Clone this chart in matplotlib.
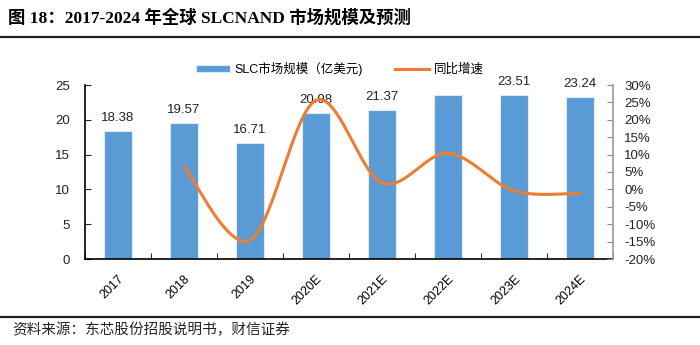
import numpy as np
import matplotlib
matplotlib.use("Agg")
import matplotlib.pyplot as plt
from matplotlib.ticker import FuncFormatter, FixedLocator

plt.rcParams['font.family'] = ['Liberation Sans', 'Noto Sans CJK SC']

# 数据
years = ['2017', '2018', '2019', '2020E', '2021E', '2022E', '2023E', '2024E']
market = [18.38, 19.57, 16.71, 20.98, 21.37, 23.6, 23.51, 23.24]
bar_labels = ['18.38', '19.57', '16.71', '20.98', '21.37', '', '23.51', '23.24']
growth_years = ['2018', '2019', '2020E', '2021E', '2022E', '2023E', '2024E']
growth = [6.5, -14.6, 25.6, 1.9, 10.4, -0.4, -1.1]

BLUE = '#5B9BD5'
ORANGE = '#ED7D31'


def smooth(xs, ys, n=40):
    # 类似 Excel 平滑线的 Catmull-Rom 贝塞尔
    pts = np.column_stack([xs, ys]).astype(float)
    p = np.vstack([pts[0], pts, pts[-1]])
    out = []
    t = np.linspace(0, 1, n)[:, None]
    for i in range(1, len(p) - 2):
        p0, p1, p2, p3 = p[i - 1], p[i], p[i + 1], p[i + 2]
        c1 = p1 + (p2 - p0) / 6
        c2 = p2 - (p3 - p1) / 6
        seg = (1 - t) ** 3 * p1 + 3 * (1 - t) ** 2 * t * c1 + 3 * (1 - t) * t ** 2 * c2 + t ** 3 * p2
        out.append(seg)
    out = np.vstack(out)
    return out[:, 0], out[:, 1]


fig = plt.figure(figsize=(7, 3.45), dpi=100)
ax = fig.add_axes([85 / 700, 1 - 259 / 345, 528 / 700, 174 / 345])

x = np.arange(len(years))
bars = ax.bar(x, market, width=0.42, color=BLUE, edgecolor='#DDEBF7', linewidth=0.8,
              label='SLC市场规模（亿美元)', zorder=2)
for xi, v, lab in zip(x, market, bar_labels):
    if lab:
        ax.text(xi, v + 1.0, lab, ha='center', va='bottom', fontsize=9.5, color='#222222')

ax.set_xlim(-0.5, len(years) - 0.5)
ax.set_ylim(0, 25)
ax.set_yticks(range(0, 26, 5))
ax.tick_params(axis='y', direction='in', length=4, labelsize=9.5, pad=11, colors='#222222')
ax.set_xticks(x)
ax.set_xticklabels(years, rotation=45, ha='right', rotation_mode='anchor', fontsize=9)
ax.tick_params(axis='x', which='major', length=0, pad=10)
ax.xaxis.set_minor_locator(FixedLocator(np.arange(-0.5, len(years), 1.0)))
ax.tick_params(axis='x', which='minor', direction='in', length=4)
for s in ['top', 'right']:
    ax.spines[s].set_visible(False)
ax.spines['left'].set_linewidth(1.2)
ax.spines['bottom'].set_linewidth(1.2)

ax2 = ax.twinx()
gx = np.array([years.index(g) for g in growth_years])
sx, sy = smooth(gx, growth)
ax2.plot(sx, sy, color=ORANGE, linewidth=2.2, label='同比增速', zorder=3)
ax2.set_ylim(-20, 30)
ax2.set_yticks(range(-20, 31, 5))
ax2.yaxis.set_major_formatter(FuncFormatter(lambda v, p: f'{int(v)}%'))
ax2.tick_params(axis='y', direction='in', length=4, labelsize=9.5, pad=8,
                color='#888888', labelcolor='#222222')
for s in ['top', 'left', 'bottom']:
    ax2.spines[s].set_visible(False)
ax2.spines['right'].set_color('#999999')
ax2.spines['right'].set_linewidth(1.2)

h1, l1 = ax.get_legend_handles_labels()
h2, l2 = ax2.get_legend_handles_labels()
fig.legend(h1 + h2, l1 + l2, loc='center', bbox_to_anchor=(340 / 700, 1 - 69 / 345),
           ncol=2, frameon=False, fontsize=9, handlelength=2.7, handleheight=0.5,
           columnspacing=2.6, handletextpad=0.4)

# 标题与来源
fig.text(8 / 700, 1 - 18 / 345, '图 18：2017-2024 年全球 SLCNAND 市场规模及预测',
         fontsize=12.5, weight='bold', va='center', ha='left',
         family=['Liberation Serif', 'Noto Sans CJK SC'])
fig.add_artist(plt.Line2D([0, 1], [1 - 37 / 345, 1 - 37 / 345], color='#222222', linewidth=1.6))
fig.add_artist(plt.Line2D([0, 1], [1 - 317 / 345, 1 - 317 / 345], color='#222222', linewidth=1.6))
fig.text(12 / 700, 1 - 330 / 345, '资料来源：东芯股份招股说明书，财信证券',
         fontsize=10.5, style='italic', va='center', ha='left', color='#222222',
         family=['Noto Sans CJK SC'])

fig.savefig('out.png', dpi=100)
